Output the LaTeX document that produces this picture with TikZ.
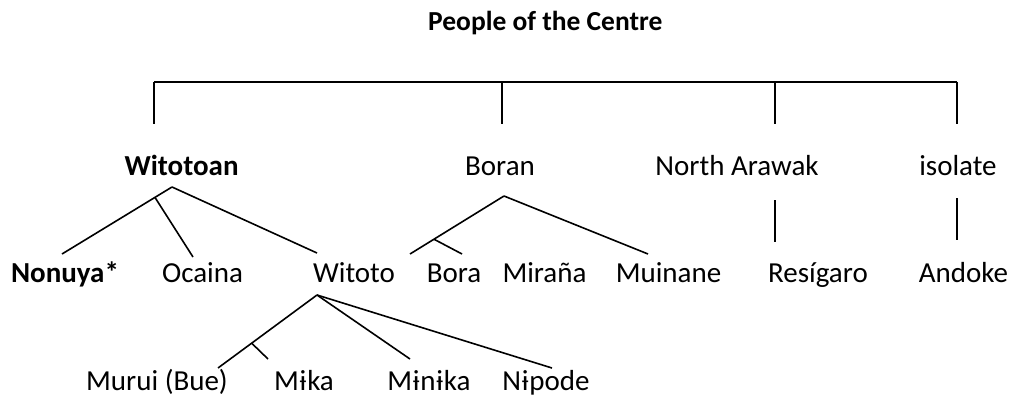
\documentclass[tikz,border=0pt]{standalone}
\usepackage{fontspec}
\setmainfont{Carlito}
\usepackage{tikz}
\usetikzlibrary{calc}

\begin{document}
\begin{tikzpicture}[x=1pt,y=-1pt]
				\useasboundingbox (0,0) rectangle (1012,396);
				\begin{scope}[every node/.style = {anchor=base, inner sep=0pt,
						font=\fontsize{29}{34}\selectfont}]
					\node[anchor=base west, font=\fontsize{27.5}{33}\selectfont\bfseries] (T) at (428,31) {People of the Centre};
					% second row
					\node[font=\fontsize{29}{34}\selectfont\bfseries] (W) at (181.5,175) {Witotoan};
					\node (B) at (500,175) {Boran};
					\node (NA) at (737,175) {North Arawak};
					\node (I) at (958,175) {isolate};
					% third row
					\node[font=\fontsize{29}{34}\selectfont\bfseries] (Non) at (65,282) {Nonuya*};
					\node (Oc) at (202.5,282) {Ocaina};
					\node (Wi) at (354,282) {Witoto};
					\node (Bo) at (454,282) {Bora};
					\node (Mi) at (544.5,282) {Miraña};
					\node (Mu) at (668.5,282) {Muinane};
					\node (Re) at (818,282) {Resígaro};
					\node (An) at (963.5,282) {Andoke};
					% fourth row
					\node (Mr) at (157,390) {Murui (Bue)};
					\node (Mk) at (304,390) {Mɨka};
					\node (Mn) at (429,390) {Mɨnɨka};
					\node (Np) at (546,390) {Nɨpode};
				\end{scope}
					\coordinate (t1) at (154,82);
					\coordinate (t2) at (502,82);
					\coordinate (t3) at (775,82);
					\coordinate (t4) at (957,82);
					\coordinate (W0) at (172,187);
					\coordinate (W1) at (62,254);
					\coordinate (W2) at (193,257);
					\coordinate (W3) at (317,253);
					\coordinate (B0) at (504,196);
					\coordinate (B1) at (410,254);
					\coordinate (B2) at (462,254);
					\coordinate (B3) at (648,254);
					\coordinate (Wi0) at (317,295);
					\coordinate (Wi1) at (218,368);
					\coordinate (Wi2) at (268,359);
					\coordinate (Wi3) at (410,359);
					\coordinate (Wi4) at (552,368);
				\begin{scope}[every edge/.style={draw=black, line width=1.6pt}]
					\path [-] (t1) edge (t4);
					\path [-] (t1) edge ++(0,42);
					\path [-] (t2) edge ++(0,42);
					\path [-] (t3) edge ++(0,42);
					\path [-] (t4) edge ++(0,42);
					\path [-] (W0) edge (W1);
					\path [-] ($(W0)!0.155!(W1)$) edge (W2);
					\path [-] (W0) edge (W3);
					\path [-] (B0) edge (B1);
					\path [-] ($(B0)!0.745!(B1)$) edge (B2);
					\path [-] (B0) edge (B3);
					\path [-] (775,200) edge (775,242);
					\path [-] (957,198) edge (957,240);
					\path [-] (Wi0) edge (Wi1);
					\path [-] ($(Wi0)!0.66!(Wi1)$) edge (Wi2);
					\path [-] (Wi0) edge (Wi3);
					\path [-] (Wi0) edge (Wi4);
				\end{scope}
			\end{tikzpicture}
\end{document}
